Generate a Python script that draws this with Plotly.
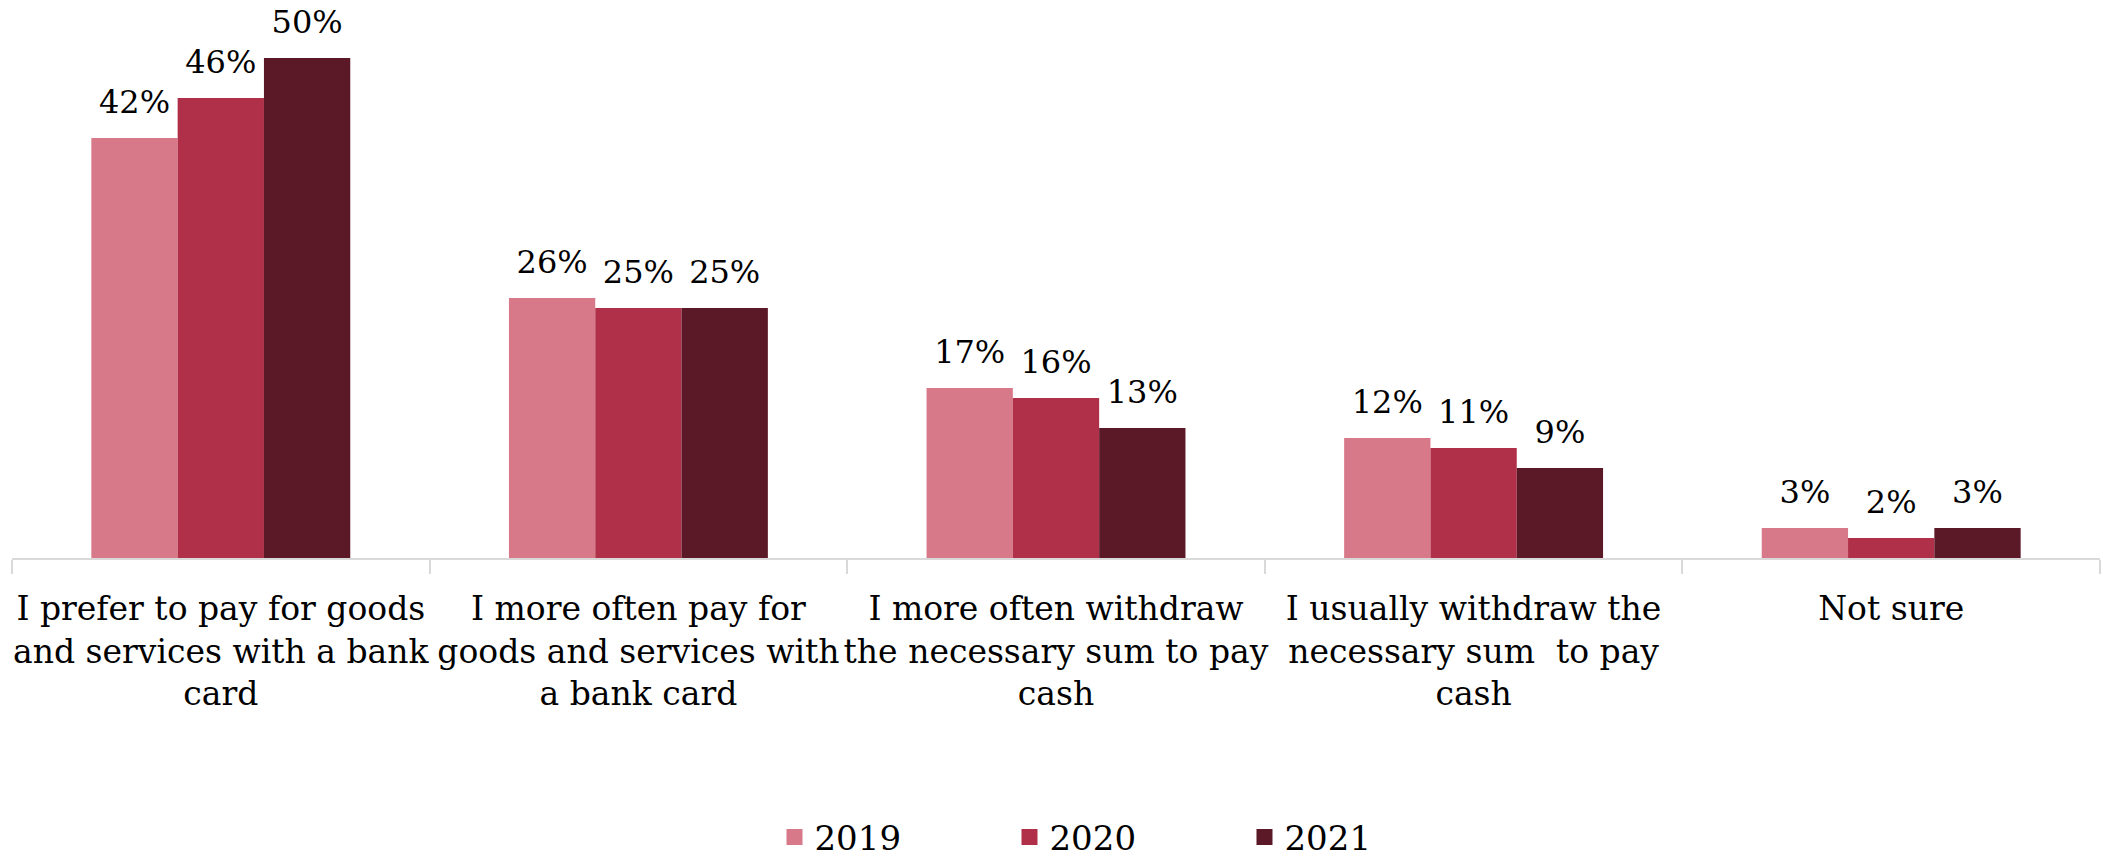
import plotly.graph_objects as go

# Survey answers (x categories) and shares per survey year, in percent
categories = [
    "I prefer to pay for goods<br>and services with a bank<br>card",
    "I more often pay for<br>goods and services with<br>a bank card",
    "I more often withdraw<br>the necessary sum to pay<br>cash",
    "I usually withdraw the<br>necessary sum  to pay<br>cash",
    "Not sure",
]
years = ["2019", "2020", "2021"]
share_2019 = [42, 26, 17, 12, 3]
share_2020 = [46, 25, 16, 11, 2]
share_2021 = [50, 25, 13, 9, 3]

colors = ["#D8798A", "#AF3048", "#5B1826"]
series = [share_2019, share_2020, share_2021]

FONT = "DejaVu Serif"
GAP = 0.38

fig = go.Figure()

for year, vals, color in zip(years, series, colors):
    fig.add_trace(go.Bar(
        x=categories, y=vals, name=year, offsetgroup=year,
        marker=dict(color=color, line=dict(width=0)),
        showlegend=False, hoverinfo="skip",
    ))
    # value labels sit above each bar, lifted by an invisible marker
    fig.add_trace(go.Scatter(
        x=categories, y=vals, offsetgroup=year,
        mode="markers+text",
        text=[f"{v}%" for v in vals],
        textposition="top center",
        textfont=dict(family=FONT, size=32, color="#000000"),
        marker=dict(size=26, opacity=0),
        cliponaxis=False,
        showlegend=False, hoverinfo="skip",
    ))
    # legend entry
    fig.add_trace(go.Scatter(
        x=[None], y=[None], offsetgroup=year, name=year,
        mode="markers",
        marker=dict(symbol="square", size=20, color=color),
    ))

fig.update_layout(
    width=2103, height=859,
    margin=dict(l=12, r=3, t=8, b=301, autoexpand=False),
    paper_bgcolor="white", plot_bgcolor="white",
    barmode="group", bargap=GAP, bargroupgap=0,
    scattermode="group", scattergap=GAP,
    font=dict(family=FONT, color="#000000"),
    legend=dict(
        orientation="h", x=0.534, xanchor="center", y=-0.508, yanchor="middle",
        font=dict(family=FONT, size=34, color="#000000"),
        entrywidth=190, itemwidth=30,
    ),
    showlegend=True,
)

fig.update_xaxes(
    showline=True, linecolor="#D9D9D9", linewidth=2,
    ticks="outside", tickson="boundaries", ticklen=14, tickcolor="#D9D9D9", tickwidth=2,
    tickangle=0, ticklabelstandoff=20,
    tickfont=dict(family=FONT, size=33, color="#000000"),
    showgrid=False, zeroline=False,
)
fig.update_yaxes(
    range=[0, 55], visible=False, showgrid=False, zeroline=False,
)

fig.write_html("out.html")
